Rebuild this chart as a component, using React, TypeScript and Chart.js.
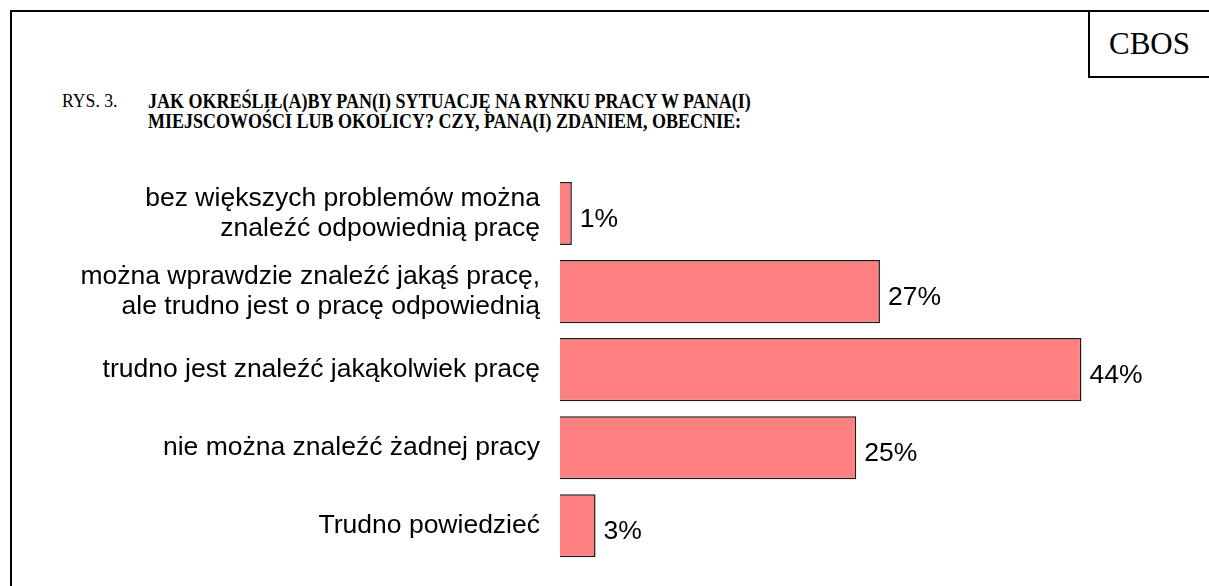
import React, { useEffect, useRef } from "react";
import { Chart, registerables } from "chart.js";

Chart.register(...registerables);

const categories: string[][] = [
  ["bez większych problemów można", "znaleźć odpowiednią pracę"],
  ["można wprawdzie znaleźć jakąś pracę,", "ale trudno jest o pracę odpowiednią"],
  ["trudno jest znaleźć jakąkolwiek pracę"],
  ["nie można znaleźć żadnej pracy"],
  ["Trudno powiedzieć"],
];
const values: number[] = [1, 27, 44, 25, 3];
const valueSuffix = "%";
const titlePrefix = "RYS. 3.";
const titleLines: string[] = [
  "JAK OKREŚLIŁ(A)BY PAN(I) SYTUACJĘ NA RYNKU PRACY W PANA(I)",
  "MIEJSCOWOŚCI LUB OKOLICY? CZY, PANA(I) ZDANIEM, OBECNIE:",
];
const sourceLabel = "CBOS";

const valueLabelPlugin = {
  id: "valueLabels",
  afterDatasetsDraw(chart: any) {
    const ctx = chart.ctx;
    const meta = chart.getDatasetMeta(0);
    ctx.save();
    ctx.font = "26.5px 'Liberation Sans', Arial, sans-serif";
    ctx.fillStyle = "#000";
    ctx.textAlign = "left";
    ctx.textBaseline = "middle";
    meta.data.forEach((bar: any, i: number) => {
      ctx.fillText(values[i] + valueSuffix, bar.x + 8, bar.y + 6);
    });
    ctx.restore();
  },
};

export default function App() {
  const canvasRef = useRef<HTMLCanvasElement | null>(null);

  useEffect(() => {
    if (!canvasRef.current) return;
    const chart = new Chart(canvasRef.current, {
      type: "bar",
      data: {
        labels: categories,
        datasets: [
          {
            data: values,
            backgroundColor: "#FF8080",
            borderColor: "#1a1a1a",
            borderWidth: 1.5,
            categoryPercentage: 1,
            barPercentage: 0.808,
          },
        ],
      },
      options: {
        indexAxis: "y",
        animation: false,
        responsive: false,
        maintainAspectRatio: false,
        events: [],
        layout: { padding: { left: 0, right: 56.5, top: 174.5, bottom: 21.2 } },
        plugins: {
          legend: { display: false },
          title: { display: false },
          tooltip: { enabled: false },
        },
        scales: {
          x: {
            display: false,
            min: 0,
            max: 50,
          },
          y: {
            grid: { display: false, drawTicks: false },
            border: { display: false },
            afterFit(scale: any) {
              scale.width = 560;
              scale.paddingTop = 0;
              scale.paddingBottom = 0;
            },
            ticks: {
              autoSkip: false,
              padding: 20,
              color: "#000",
              font: {
                family: "'Liberation Sans', Arial, sans-serif",
                size: 26.5,
                lineHeight: 1.15,
              },
            },
          },
        },
      },
      plugins: [valueLabelPlugin],
    });
    return () => chart.destroy();
  }, []);

  return (
    <div
      style={{
        position: "fixed",
        left: 0,
        top: 0,
        width: 1209,
        height: 586,
        overflow: "hidden",
        background: "#fff",
      }}
    >
      <div
        style={{
          position: "absolute",
          left: 10,
          top: 10,
          width: 1300,
          height: 700,
          borderLeft: "2px solid #000",
          borderTop: "2px solid #000",
        }}
      />
      <div
        style={{
          position: "absolute",
          left: 1088,
          top: 10,
          width: 200,
          height: 66,
          borderLeft: "2px solid #000",
          borderBottom: "2px solid #000",
        }}
      />
      <div
        style={{
          position: "absolute",
          left: 1090,
          top: 12,
          width: 119,
          height: 64,
          lineHeight: "64px",
          textAlign: "center",
          fontFamily: "'Liberation Serif', 'Times New Roman', serif",
          fontSize: 31,
          color: "#000",
        }}
      >
        {sourceLabel}
      </div>
      <div
        style={{
          position: "absolute",
          left: 62,
          top: 91,
          fontFamily: "'Liberation Serif', 'Times New Roman', serif",
          fontSize: 19,
          lineHeight: "20px",
          color: "#000",
          whiteSpace: "nowrap",
          transform: "scaleX(0.93)",
          transformOrigin: "0 0",
        }}
      >
        {titlePrefix}
      </div>
      <div
        style={{
          position: "absolute",
          left: 148,
          top: 91,
          fontFamily: "'Liberation Serif', 'Times New Roman', serif",
          fontSize: 20,
          fontWeight: "bold",
          lineHeight: "20px",
          color: "#000",
          whiteSpace: "nowrap",
          transform: "scaleX(0.9)",
          transformOrigin: "0 0",
        }}
      >
        {titleLines.map((l, i) => (
          <div key={i}>{l}</div>
        ))}
      </div>
      <canvas
        ref={canvasRef}
        width={1209}
        height={586}
        style={{ position: "absolute", left: 0, top: 0, width: 1209, height: 586 }}
      />
    </div>
  );
}
